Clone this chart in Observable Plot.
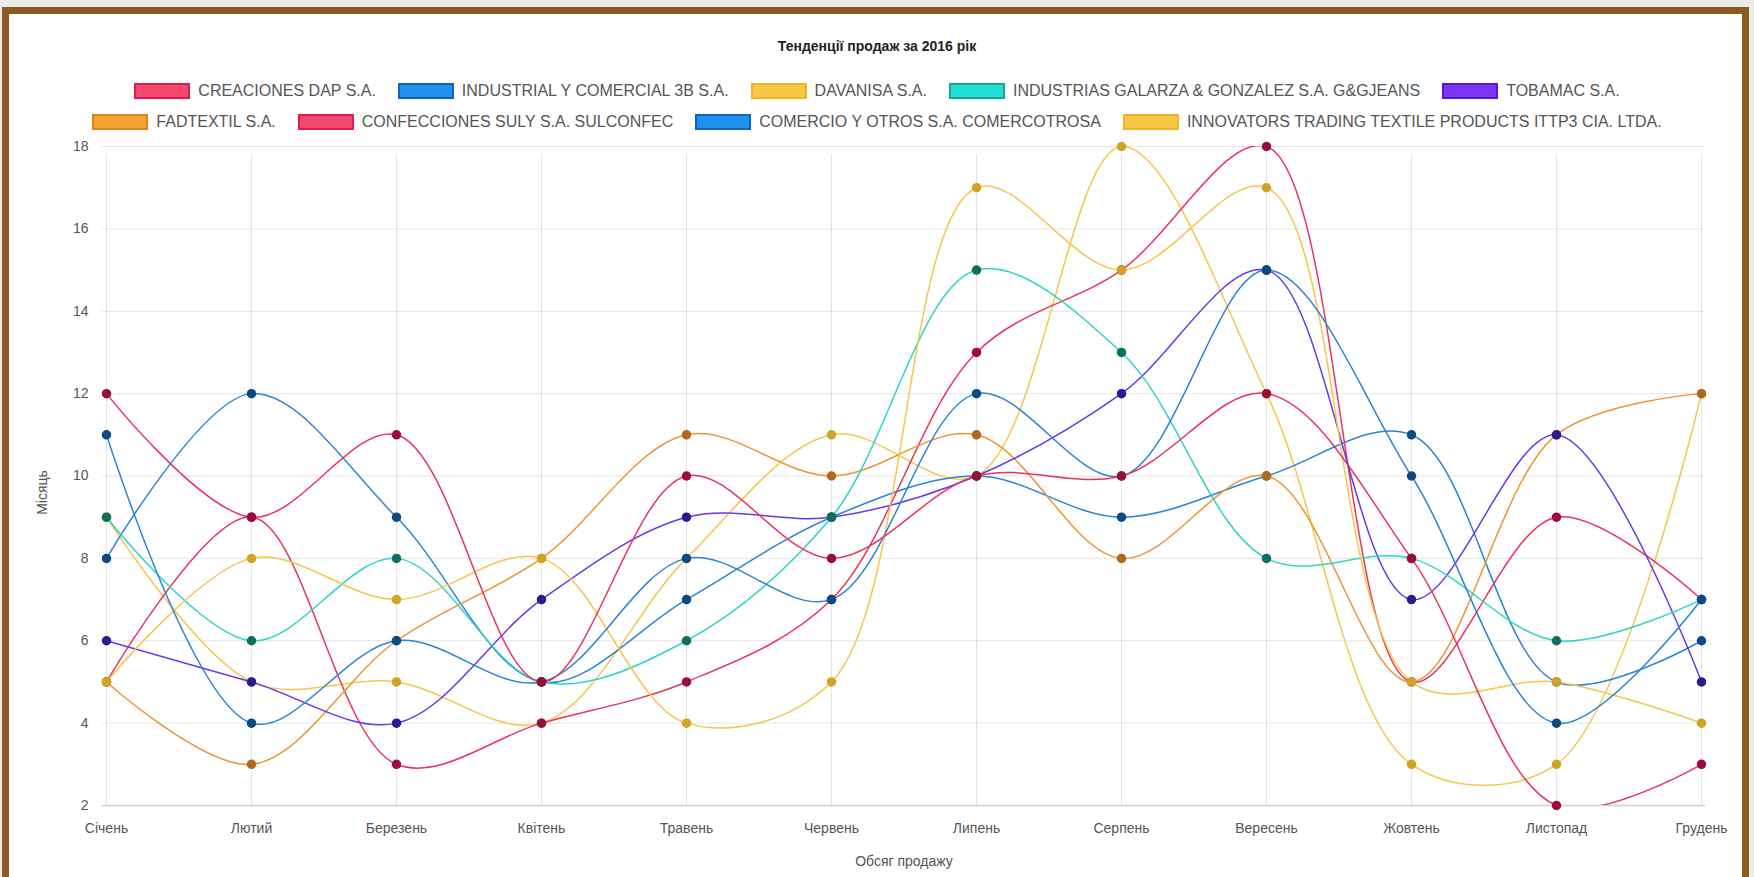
<!DOCTYPE html>
<html>
<head>
<meta charset="utf-8">
<script src="https://cdn.jsdelivr.net/npm/d3@7"></script>
<script src="https://cdn.jsdelivr.net/npm/@observablehq/plot@0.6"></script>
<style>
  html, body { margin: 0; padding: 0; background: #ebebeb; width: 1754px; height: 877px; overflow: hidden; font-family: "Liberation Sans", Arial, sans-serif; }
  #frame { position: absolute; left: 2px; top: 7px; width: 1733px; height: 864px; border: 7px solid #8b5a1e; border-bottom: none; background: #fff; }
  #title { position: absolute; left: 0; width: 1754px; top: 38px; text-align: center; font-weight: bold; font-size: 14px; color: #222; }
  .row { position: absolute; left: 0; width: 1754px; display: flex; justify-content: center; align-items: center; font-size: 16px; color: #555; }
  .item { display: flex; align-items: center; margin: 0 11px; white-space: nowrap; }
  .box { width: 52px; height: 12px; border: 2px solid; margin-right: 8px; }
  #chart { position: absolute; left: 0; top: 130px; }
</style>
</head>
<body>
<div id="frame"></div>
<div id="title"></div>
<div class="row" id="row1" style="top:82px"></div>
<div class="row" id="row2" style="top:113px"></div>
<div id="chart"></div>
<script>
const title = "Тенденції продаж за 2016 рік";
const months = ["Січень","Лютий","Березень","Квітень","Травень","Червень","Липень","Серпень","Вересень","Жовтень","Листопад","Грудень"];
const seriesNames = [
  "CREACIONES DAP S.A.",
  "INDUSTRIAL Y COMERCIAL 3B S.A.",
  "DAVANISA S.A.",
  "INDUSTRIAS GALARZA & GONZALEZ S.A. G&GJEANS",
  "TOBAMAC S.A.",
  "FADTEXTIL S.A.",
  "CONFECCIONES SULY S.A. SULCONFEC",
  "COMERCIO Y OTROS S.A. COMERCOTROSA",
  "INNOVATORS TRADING TEXTILE PRODUCTS ITTP3 CIA. LTDA."
];
const creaciones   = [12, 9, 11, 5, 10, 8, 10, 10, 12, 8, 2, 3];
const industrial3b = [11, 4, 6, 5, 8, 7, 12, 10, 15, 10, 4, 7];
const davanisa     = [5, 8, 7, 8, 4, 5, 17, 15, 17, 5, 5, 4];
const galarza      = [9, 6, 8, 5, 6, 9, 15, 13, 8, 8, 6, 7];
const tobamac      = [6, 5, 4, 7, 9, 9, 10, 12, 15, 7, 11, 5];
const fadtextil    = [5, 3, 6, 8, 11, 10, 11, 8, 10, 5, 11, 12];
const suly         = [5, 9, 3, 4, 5, 7, 13, 15, 18, 5, 9, 7];
const comercio     = [8, 12, 9, 5, 7, 9, 10, 9, 10, 11, 5, 6];
const innovators   = [9, 5, 5, 4, 8, 11, 10, 18, 12, 3, 3, 12];
const seriesValues = [creaciones, industrial3b, davanisa, galarza, tobamac, fadtextil, suly, comercio, innovators];
const lineColors = ["#e8355e","#2b84d6","#f6c64c","#2fd4c8","#6b37ea","#ee9433","#e8355e","#2b84d6","#f6c64c"];
const dotColors  = ["#9a0e3a","#0e4a82","#d0a428","#0e6f60","#2c1a90","#b0691c","#9a0e3a","#0e4a82","#d0a428"];
const boxFill    = ["#f4486f","#2090ee","#f8c844","#22e0d2","#7a34f2","#f5a034","#f4486f","#2090ee","#f8c844"];
const boxBorder  = ["#dc1e4c","#1262c2","#efb528","#12a8a0","#5418d0","#e08416","#dc1e4c","#1262c2","#efb528"];
const yTicks = [2,4,6,8,10,12,14,16,18];
const yLabel = "Місяць";
const xLabel = "Обсяг продажу";

document.getElementById("title").textContent = title;
const rows = [document.getElementById("row1"), document.getElementById("row2")];
seriesNames.forEach((name, i) => {
  const item = document.createElement("div");
  item.className = "item";
  const box = document.createElement("div");
  box.className = "box";
  box.style.background = boxFill[i];
  box.style.borderColor = boxBorder[i];
  const label = document.createElement("span");
  label.textContent = name;
  item.appendChild(box); item.appendChild(label);
  rows[i < 5 ? 0 : 1].appendChild(item);
});

const data = [];
seriesValues.forEach((vals, s) => vals.forEach((v, m) => data.push({series: seriesNames[s], idx: s, month: months[m], value: v})));

const marks = [
  Plot.gridY(yTicks, {stroke: "#000", strokeOpacity: 0.1}),
  Plot.gridX(months, {stroke: "#000", strokeOpacity: 0.1, y1: 2, y2: 18, insetBottom: -8}),
  Plot.ruleY([2], {stroke: "#cfcfcf", strokeWidth: 1.5}),
  Plot.axisY(yTicks, {tickSize: 0, tickPadding: 14, fontSize: 14, fill: "#555", label: null}),
  Plot.text([yLabel], {frameAnchor: "left", textAnchor: "middle", y: () => 9.6, dx: -60, rotate: -90, fontSize: 14, fill: "#555"}),
  Plot.axisX(months, {tickSize: 0, tickPadding: 18, fontSize: 14, fill: "#555", label: xLabel, labelAnchor: "center", labelArrow: "none", labelOffset: 60})
];
for (let s = seriesValues.length - 1; s >= 0; s--) {
  const d = data.filter(r => r.idx === s);
  marks.push(Plot.line(d, {x: "month", y: "value", stroke: lineColors[s], strokeWidth: 1.5, curve: "catmull-rom", clip: true}));
}
for (let s = seriesValues.length - 1; s >= 0; s--) {
  const d = data.filter(r => r.idx === s);
  marks.push(Plot.dot(d, {x: "month", y: "value", r: 4, fill: dotColors[s], stroke: dotColors[s]}));
}

const chart = Plot.plot({
  width: 1754,
  height: 747,
  marginTop: 16,
  marginBottom: 72,
  marginLeft: 102,
  marginRight: 49,
  style: {fontFamily: "Liberation Sans, Arial, sans-serif", background: "transparent", fontSize: "14px"},
  x: {type: "point", domain: months, padding: 0},
  y: {domain: [2, 18]},
  marks
});
document.getElementById("chart").appendChild(chart);
</script>
</body>
</html>
